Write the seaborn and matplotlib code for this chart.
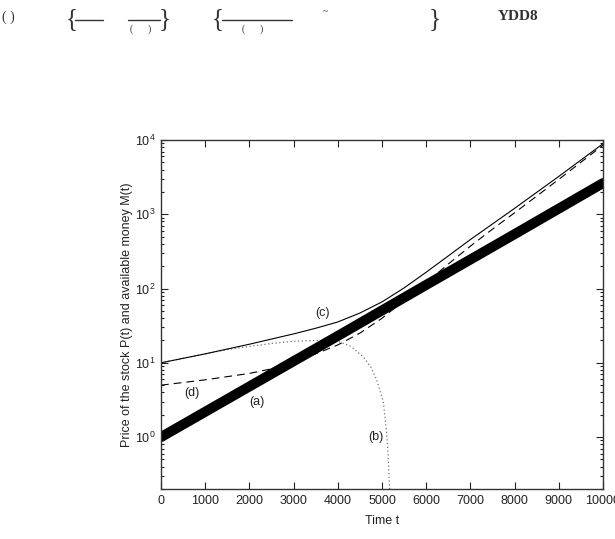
import matplotlib
matplotlib.use("Agg")
import matplotlib.pyplot as plt
from matplotlib.lines import Line2D
from matplotlib.ticker import LogLocator, NullFormatter, FixedLocator
import seaborn as sns
import pandas as pd

# ---- data ----
t_a = [0, 2000, 4000, 6000, 8000, 10000]
p_a = [1.0, 4.8, 23, 112, 540, 2630]

t_c = [0, 1000, 2000, 2500, 3000, 3500, 4000, 4500, 5000, 5500, 6000, 6500, 7000, 7500, 8000, 9000, 10000]
p_c = [10, 13.2, 17.8, 20.9, 24.5, 29.2, 35.5, 46.8, 66.1, 102, 166, 275, 457, 741, 1202, 3236, 8913]

t_d = [0, 1000, 2000, 2500, 3000, 3500, 4000, 4500, 5000, 5500, 6000, 6500, 7000, 7500, 8000, 9000, 10000]
p_d = [5.0, 5.9, 7.2, 8.3, 10.2, 13.2, 17.4, 25.1, 39.8, 69.2, 120, 214, 372, 631, 1047, 2951, 8511]

t_b = [0, 1000, 1500, 2000, 2500, 3000, 3500, 4000, 4300, 4577, 4750, 4880, 5029, 5106, 5140, 5165, 5180]
p_b = [10, 13.2, 15.1, 16.6, 18.2, 19.5, 20.0, 19.5, 16.6, 12.0, 8.7, 5.9, 3.0, 1.12, 0.56, 0.25, 0.16]

labels = ["(a)", "(b)", "(c)", "(d)"]
label_t = [2179, 4864, 3665, 694]
label_p = [2.93, 1.0, 46.8, 3.88]

xticks = [0, 1000, 2000, 3000, 4000, 5000, 6000, 7000, 8000, 9000, 10000]

# ---- style ----
sns.set_theme(style="ticks")
plt.rcParams["font.family"] = ["Liberation Sans", "DejaVu Sans"]
plt.rcParams["mathtext.default"] = "regular"

fig = plt.figure(figsize=(6.15, 5.39), dpi=100)
ax = fig.add_axes([161 / 615, 1 - 489 / 539, (603 - 161) / 615, (489 - 140) / 539])
ax.set_yscale("log")

df_a = pd.DataFrame({"t": t_a, "p": p_a})
df_b = pd.DataFrame({"t": t_b, "p": p_b})
df_c = pd.DataFrame({"t": t_c, "p": p_c})
df_d = pd.DataFrame({"t": t_d, "p": p_d})

sns.lineplot(data=df_b, x="t", y="p", ax=ax, color="0.45", lw=0.9,
             linestyle=(0, (1, 2)), estimator=None, sort=False)
sns.lineplot(data=df_c, x="t", y="p", ax=ax, color="black", lw=0.8,
             estimator=None, sort=False)
sns.lineplot(data=df_d, x="t", y="p", ax=ax, color="black", lw=0.8,
             linestyle=(0, (7, 4.5)), estimator=None, sort=False)
sns.lineplot(data=df_a, x="t", y="p", ax=ax, color="black", lw=7.2,
             estimator=None, sort=False, solid_capstyle="round")

for lab, lt, lp in zip(labels, label_t, label_p):
    ax.text(lt, lp, lab, ha="center", va="center", fontsize=9, color="#222222")

ax.set_xlim(0, 10000)
ax.set_ylim(0.2, 1e4)
ax.xaxis.set_major_locator(FixedLocator(xticks))
ax.set_xticklabels([str(v) for v in xticks])
ax.yaxis.set_major_locator(LogLocator(base=10, numticks=10))
ax.yaxis.set_minor_locator(LogLocator(base=10, subs=range(2, 10), numticks=20))
ax.yaxis.set_minor_formatter(NullFormatter())

ax.tick_params(which="both", direction="in", top=True, right=True,
               labelsize=9, colors="#222222", width=0.8)
ax.tick_params(which="major", length=5, pad=4)
ax.tick_params(which="minor", length=2.5)
for s in ax.spines.values():
    s.set_linewidth(1.0)
    s.set_color("#333333")
    s.set_visible(True)

ax.set_xlabel("Time t", fontsize=9, color="#222222", labelpad=6)
ax.set_ylabel("Price of the stock P(t) and available money M(t)", fontsize=9,
              color="#222222", labelpad=1)

# ---- top residual equation fragments ----
W, H = 615, 539
def ft(x, y, s, size, **kw):
    fig.text(x / W, 1 - y / H, s, fontsize=size, ha="center", va="center",
             family=["Liberation Serif", "DejaVu Serif"], color="#333333", **kw)

def fl(x0, x1, y):
    fig.add_artist(Line2D([x0 / W, x1 / W], [1 - y / H, 1 - y / H],
                          color="#333333", lw=1.0, transform=fig.transFigure))

ft(8, 17, "( )", 10)
ft(72, 19, "{", 18)
fl(75, 103, 19.5)
fl(128, 160, 20)
ft(141, 29, "(      )", 7)
ft(165, 19, "}", 18)
ft(218, 19, "{", 18)
fl(222, 292, 20)
ft(253, 29, "(      )", 7)
ft(325, 12, "~", 7)
ft(435, 19, "}", 18)
ft(518, 17, "YDD8", 11, fontweight="bold", stretch="condensed")

fig.savefig("out.png", dpi=100)
